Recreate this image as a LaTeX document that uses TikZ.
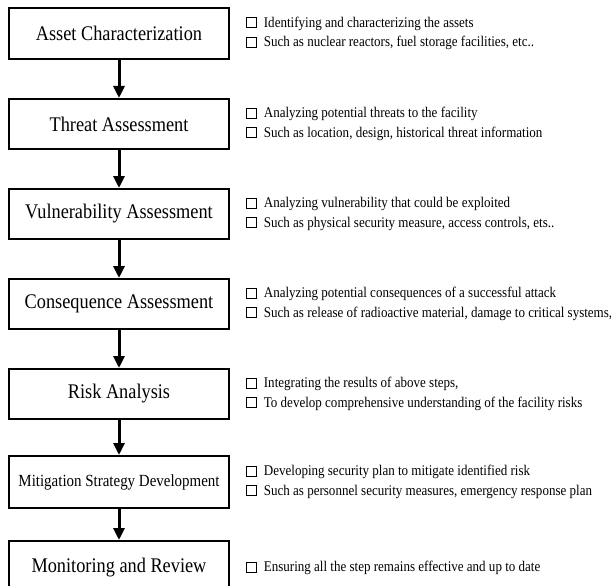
\documentclass[tikz,border=0pt]{standalone}
\usepackage{fontspec}
\setmainfont{Liberation Serif}[FakeStretch=0.88]
\usetikzlibrary{arrows.meta,positioning}
\tikzset{
  stage/.style={draw=black,line width=2pt,fill=white,minimum width=220pt,minimum height=50pt,inner sep=0pt,font=\fontsize{20.8}{24}\selectfont},
  notes/.style={anchor=west,align=left,inner sep=0pt,font=\fontsize{14.8}{19.5}\selectfont},
  arr/.style={-{Triangle[length=12pt,width=11pt]},line width=3pt,draw=black}
}
% small empty tick box in front of each note line
\newcommand{\chkbox}{\mbox{\setlength{\fboxsep}{0pt}\setlength{\fboxrule}{0.6pt}\fbox{\rule{0pt}{9.5pt}\hspace{9.5pt}}}\hspace{7pt}}

\begin{document}
\begin{tikzpicture}[x=1pt,y=-1pt,node distance=38pt]
  \useasboundingbox (0,0) rectangle (611,586);
  % stages
  \node[stage,minimum height=51pt] (asset) at (119,33.5) {Asset Characterization};
  \node[stage,below=of asset] (threat) {Threat Assessment};
  \node[stage,below=of threat] (vuln) {Vulnerability Assessment};
  \node[stage,below=of vuln] (conseq) {Consequence Assessment};
  \node[stage,below=of conseq] (risk) {Risk Analysis};
  \node[stage,below=35pt of risk,minimum height=52pt,font=\fontsize{17}{20}\selectfont] (mitig) {Mitigation Strategy Development};
  \node[stage,below=31pt of mitig,minimum height=54pt] (monitor) {Monitoring and Review};
  \draw[arr] (asset) -- (threat);
  \draw[arr] (threat) -- (vuln);
  \draw[arr] (vuln) -- (conseq);
  \draw[arr] (conseq) -- (risk);
  \draw[arr] (risk) -- (mitig);
  \draw[arr] (mitig) -- (monitor);
  % notes beside each stage
  \node[notes] (assetnote) at ([xshift=16pt]asset.east) {\chkbox Identifying and characterizing the assets\\\chkbox Such as nuclear reactors, fuel storage facilities, etc..};
  \node[notes] (threatnote) at ([xshift=16pt]threat.east) {\chkbox Analyzing potential threats to the facility\\\chkbox Such as location, design, historical threat information};
  \node[notes] (vulnnote) at ([xshift=16pt]vuln.east) {\chkbox Analyzing vulnerability that could be exploited\\\chkbox Such as physical security measure, access controls, ets..};
  \node[notes] (conseqnote) at ([xshift=16pt]conseq.east) {\chkbox Analyzing potential consequences of a successful attack\\\chkbox Such as release of radioactive material, damage to critical systems,};
  \node[notes] (risknote) at ([xshift=16pt]risk.east) {\chkbox Integrating the results of above steps,\\\chkbox To develop comprehensive understanding of the facility risks};
  \node[notes] (mitignote) at ([xshift=16pt]mitig.east) {\chkbox Developing security plan to mitigate identified risk\\\chkbox Such as personnel security measures, emergency response plan};
  \node[notes] (monitornote) at ([xshift=16pt]monitor.east) {\chkbox Ensuring all the step remains effective and up to date};
\end{tikzpicture}
\end{document}
